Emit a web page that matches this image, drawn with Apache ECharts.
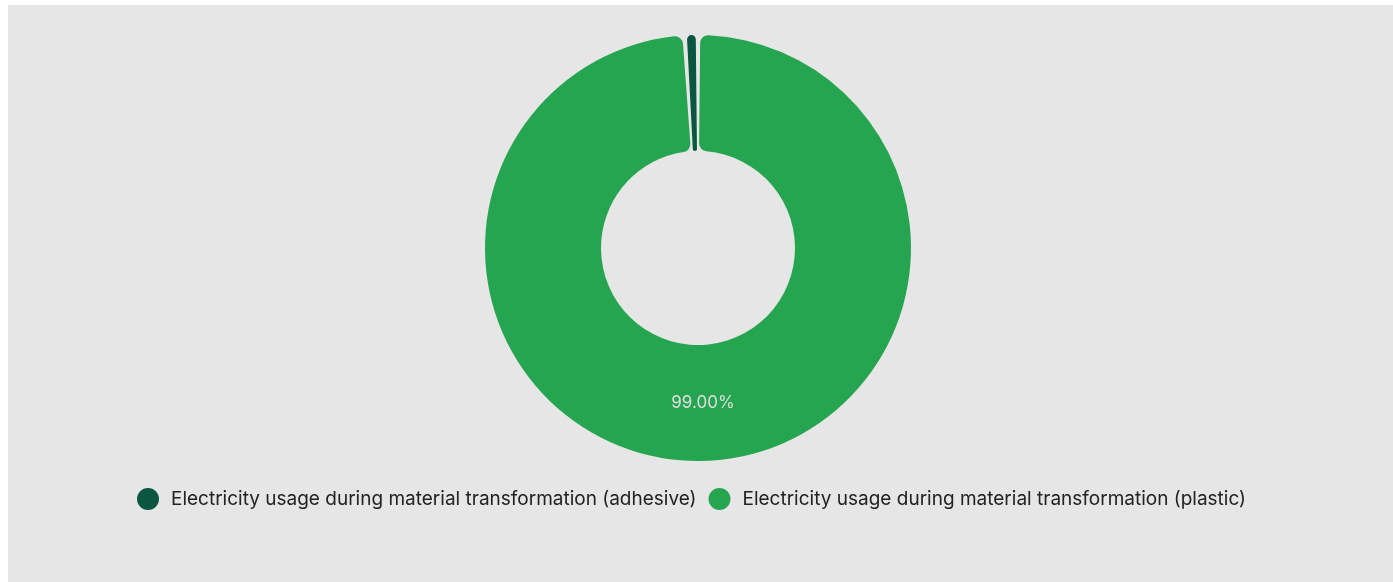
<!DOCTYPE html>
<html>
<head>
<meta charset="utf-8">
<script src="https://cdn.jsdelivr.net/npm/echarts@6/dist/echarts.min.js"></script>
<style>
html,body{margin:0;padding:0;background:#ffffff;}
#chart{position:absolute;left:8px;top:5px;width:1385px;height:577px;background:#e6e6e6;}
</style>
</head>
<body>
<div id="chart"></div>
<script>
const categories = [
  'Electricity usage during material transformation (adhesive)',
  'Electricity usage during material transformation (plastic)'
];
const values = [1, 99];
const colors = ['#0b5641', '#26a550'];

const chart = echarts.init(document.getElementById('chart'));
chart.setOption({
  backgroundColor: '#e6e6e6',
  legend: {
    bottom: 67,
    left: 124,
    icon: 'circle',
    itemWidth: 22,
    itemHeight: 22,
    itemGap: 12,
    textStyle: { fontFamily: 'Inter', fontSize: 19, color: '#222222', padding: [0, 0, 0, 7] },
    data: categories
  },
  series: [{
    type: 'pie',
    center: [690, 243],
    radius: [97, 213],
    startAngle: 90,
    clockwise: false,
    padAngle: 1.2,
    itemStyle: { borderRadius: 8 },
    label: {
      show: true,
      position: 'inside',
      formatter: p => p.percent.toFixed(2) + '%',
      color: '#dddddd',
      fontFamily: 'Inter',
      fontSize: 17
    },
    labelLine: { show: false },
    data: categories.map((c, i) => ({
      name: c,
      value: values[i],
      itemStyle: { color: colors[i] },
      label: { show: i === 1, offset: [0, -3] }
    }))
  }]
});
</script>
</body>
</html>
